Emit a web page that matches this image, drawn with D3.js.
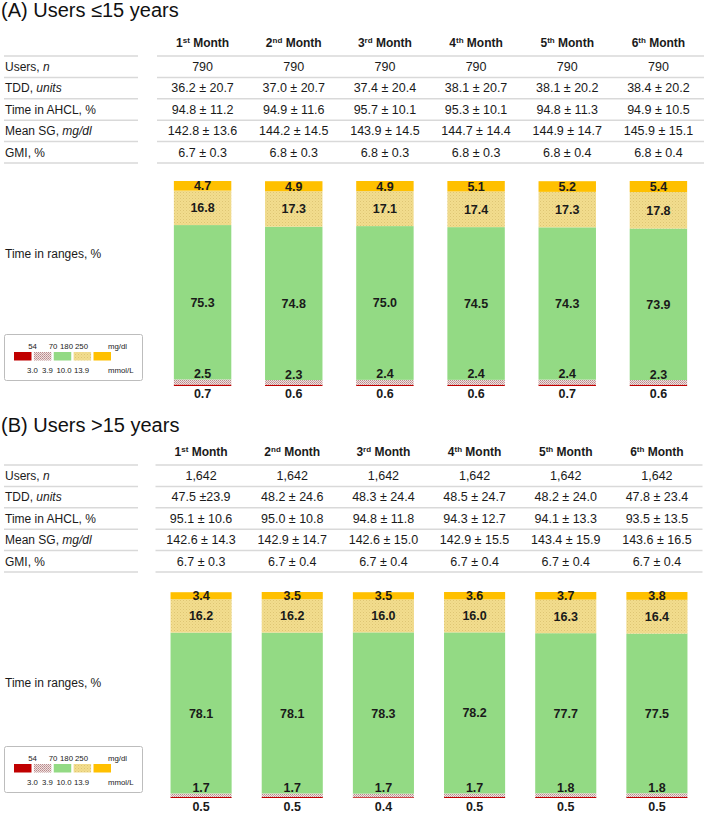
<!DOCTYPE html>
<html><head><meta charset="utf-8">
<script src="https://cdn.jsdelivr.net/npm/d3@7"></script>
<style>body{margin:0;background:#fff} text{font-family:"Liberation Sans",Arial,sans-serif;fill:#1a1a1a}</style>
</head><body><svg id="c" width="709" height="816"></svg>
<script>
// ---------- data ----------
const months = ["1", "2", "3", "4", "5", "6"];
const ordinals = ["st", "nd", "rd", "th", "th", "th"];
const rowLabels = [["Users, ", "n"], ["TDD, ", "units"], ["Time in AHCL, %", ""], ["Mean SG, ", "mg/dl"], ["GMI, %", ""]];
const rangeKeys = ["veryLow", "low", "inRange", "high", "veryHigh"];
const legendMgdl = ["54", "70", "180", "250"];
const legendMmol = ["3.0", "3.9", "10.0", "13.9"];

// Panel A: users <=15 years
const usersA = ["790", "790", "790", "790", "790", "790"];
const tddA = ["36.2 ± 20.7", "37.0 ± 20.7", "37.4 ± 20.4", "38.1 ± 20.7", "38.1 ± 20.2", "38.4 ± 20.2"];
const ahclA = ["94.8 ± 11.2", "94.9 ± 11.6", "95.7 ± 10.1", "95.3 ± 10.1", "94.8 ± 11.3", "94.9 ± 10.5"];
const sgA = ["142.8 ± 13.6", "144.2 ± 14.5", "143.9 ± 14.5", "144.7 ± 14.4", "144.9 ± 14.7", "145.9 ± 15.1"];
const gmiA = ["6.7 ± 0.3", "6.8 ± 0.3", "6.8 ± 0.3", "6.8 ± 0.3", "6.8 ± 0.4", "6.8 ± 0.4"];
const veryLowA = [0.7, 0.6, 0.6, 0.6, 0.7, 0.6];
const lowA = [2.5, 2.3, 2.4, 2.4, 2.4, 2.3];
const inRangeA = [75.3, 74.8, 75.0, 74.5, 74.3, 73.9];
const highA = [16.8, 17.3, 17.1, 17.4, 17.3, 17.8];
const veryHighA = [4.7, 4.9, 4.9, 5.1, 5.2, 5.4];

// Panel B: users >15 years
const usersB = ["1,642", "1,642", "1,642", "1,642", "1,642", "1,642"];
const tddB = ["47.5 ±23.9", "48.2 ± 24.6", "48.3 ± 24.4", "48.5 ± 24.7", "48.2 ± 24.0", "47.8 ± 23.4"];
const ahclB = ["95.1 ± 10.6", "95.0 ± 10.8", "94.8 ± 11.8", "94.3 ± 12.7", "94.1 ± 13.3", "93.5 ± 13.5"];
const sgB = ["142.6 ± 14.3", "142.9 ± 14.7", "142.6 ± 15.0", "142.9 ± 15.5", "143.4 ± 15.9", "143.6 ± 16.5"];
const gmiB = ["6.7 ± 0.3", "6.7 ± 0.4", "6.7 ± 0.4", "6.7 ± 0.4", "6.7 ± 0.4", "6.7 ± 0.4"];
const veryLowB = [0.5, 0.5, 0.4, 0.5, 0.5, 0.5];
const lowB = [1.7, 1.7, 1.7, 1.7, 1.8, 1.8];
const inRangeB = [78.1, 78.1, 78.3, 78.2, 77.7, 77.5];
const highB = [16.2, 16.2, 16.0, 16.0, 16.3, 16.4];
const veryHighB = [3.4, 3.5, 3.5, 3.6, 3.7, 3.8];

// ---------- drawing ----------
const svg = d3.select("#c");
const defs = svg.append("defs");

const yp = defs.append("pattern").attr("id", "hatchY").attr("patternUnits", "userSpaceOnUse").attr("width", 3).attr("height", 3);
yp.append("rect").attr("width", 3).attr("height", 3).attr("fill", "#F2DD8E");
yp.append("rect").attr("width", 1).attr("height", 1).attr("fill", "#DEC574");
yp.append("rect").attr("x", 1.5).attr("y", 1.5).attr("width", 1).attr("height", 1).attr("fill", "#E6CF80");

const lp = defs.append("pattern").attr("id", "hatchR").attr("patternUnits", "userSpaceOnUse").attr("width", 2).attr("height", 2);
lp.append("rect").attr("width", 2).attr("height", 2).attr("fill", "#EEE2E2");
lp.append("rect").attr("width", 1).attr("height", 1).attr("fill", "#B98888");
lp.append("rect").attr("x", 1).attr("y", 1).attr("width", 1).attr("height", 1).attr("fill", "#C9A0A0");

const color = d3.scaleOrdinal().domain(rangeKeys)
  .range(["#C00000", "url(#hatchR)", "#93DA84", "url(#hatchY)", "#FFC000"]);

function panel(cfg) {
  const g = svg.append("g");
  g.append("text").attr("x", 1).attr("y", cfg.titleY).attr("font-size", 20).style("fill", "#111").text(cfg.title);

  const x = d3.scaleBand().domain(months).range(cfg.colRange).padding(0);
  const cx = m => x(m) + x.bandwidth() / 2;
  const rowH = 21.4;
  const line0 = cfg.headerY + 13;

  // header
  months.forEach((m, i) => {
    const t = g.append("text").attr("x", cx(m)).attr("y", cfg.headerY + 4)
      .attr("text-anchor", "middle").attr("font-weight", "bold").attr("font-size", 12);
    t.append("tspan").text(m);
    t.append("tspan").attr("font-size", 8).attr("dy", -4).text(ordinals[i]);
    t.append("tspan").attr("dy", 4).text(" Month");
  });

  // separators
  for (let r = 0; r <= cfg.rows.length; r++) {
    const ly = line0 + r * rowH;
    g.append("line").attr("x1", 4).attr("x2", 138).attr("y1", ly).attr("y2", ly)
      .attr("stroke", "#D9D9D9").attr("stroke-width", 1.5);
    g.append("line").attr("x1", cfg.colRange[0]).attr("x2", cfg.colRange[1]).attr("y1", ly).attr("y2", ly)
      .attr("stroke", "#D9D9D9").attr("stroke-width", 1.5);
  }

  // rows
  cfg.rows.forEach((vals, r) => {
    const by = line0 + r * rowH + 15;
    const lt = g.append("text").attr("x", 5).attr("y", by).attr("font-size", 12);
    lt.append("tspan").text(rowLabels[r][0]);
    if (rowLabels[r][1]) lt.append("tspan").attr("font-style", "italic").text(rowLabels[r][1]);
    months.forEach((m, i) => {
      g.append("text").attr("x", cx(m)).attr("y", by).attr("text-anchor", "middle")
        .attr("font-size", 12.5).text(vals[i]);
    });
  });

  // stacked bars
  const data = months.map((m, i) => ({
    month: m, veryLow: cfg.tir[0][i], low: cfg.tir[1][i], inRange: cfg.tir[2][i],
    high: cfg.tir[3][i], veryHigh: cfg.tir[4][i]
  }));
  const series = d3.stack().keys(rangeKeys)(data);
  const y = d3.scaleLinear().domain([0, 100]).range([cfg.barBottom, cfg.barTop]);
  const bw = x.bandwidth() * cfg.barFrac;

  series.forEach(s => {
    g.append("g").selectAll("rect").data(s).join("rect")
      .attr("x", d => cx(d.data.month) - bw / 2)
      .attr("width", bw)
      .attr("y", d => y(d[1]))
      .attr("height", d => y(d[0]) - y(d[1]))
      .attr("fill", color(s.key));
  });

  // labels
  series.forEach(s => {
    g.append("g").selectAll("text").data(s).join("text")
      .attr("x", d => cx(d.data.month))
      .attr("y", d => {
        if (s.key === "veryLow") return y(d[0]) + cfg.vlGap;
        if (s.key === "low") return y(d[1]) - 1.5;
        return (y(d[0]) + y(d[1])) / 2 + 4.5;
      })
      .attr("text-anchor", "middle").attr("font-weight", "bold").attr("font-size", 12.5)
      .text(d => (d[1] - d[0]).toFixed(1));
  });

  g.append("text").attr("x", 5).attr("y", cfg.tirLabelY).attr("font-size", 12).text("Time in ranges, %");

  // legend
  const L = cfg.legendTop;
  g.append("rect").attr("x", 4.5).attr("y", L + 0.5).attr("width", 138).attr("height", 46)
    .attr("fill", "#fff").attr("stroke", "#BDBDBD").attr("rx", 2);
  const lx = d3.scaleBand().domain(rangeKeys).range([14, 111]).paddingInner(0.12);
  g.append("g").selectAll("rect").data(rangeKeys).join("rect")
    .attr("x", k => lx(k)).attr("y", L + 18).attr("width", lx.bandwidth()).attr("height", 8.5)
    .attr("fill", k => color(k));
  const topX = d3.scaleOrdinal().domain(legendMgdl).range([32.5, 53, 66.5, 81.5]);
  const botX = d3.scaleOrdinal().domain(legendMmol).range([32.5, 47.5, 64, 81.5]);
  g.append("g").selectAll("text").data(legendMgdl).join("text")
    .attr("x", d => topX(d)).attr("y", L + 14.5).attr("text-anchor", "middle")
    .attr("font-size", 7.8).text(d => d);
  g.append("g").selectAll("text").data(legendMmol).join("text")
    .attr("x", d => botX(d)).attr("y", L + 38.5).attr("text-anchor", "middle")
    .attr("font-size", 7.8).text(d => d);
  g.append("text").attr("x", 108).attr("y", L + 14.5).attr("font-size", 7.8).text("mg/dl");
  g.append("text").attr("x", 108).attr("y", L + 38.5).attr("font-size", 7.8).text("mmol/L");
}

panel({
  title: "(A) Users ≤15 years", titleY: 17, headerY: 43, colRange: [157, 704],
  rows: [usersA, tddA, ahclA, sgA, gmiA],
  tir: [veryLowA, lowA, inRangeA, highA, veryHighA],
  barTop: 181, barBottom: 386, barFrac: 0.63, vlGap: 11.5,
  tirLabelY: 258, legendTop: 334
});
panel({
  title: "(B) Users >15 years", titleY: 432, headerY: 452, colRange: [155.5, 702.5],
  rows: [usersB, tddB, ahclB, sgB, gmiB],
  tir: [veryLowB, lowB, inRangeB, highB, veryHighB],
  barTop: 592, barBottom: 798, barFrac: 0.67, vlGap: 13,
  tirLabelY: 687, legendTop: 746
});
</script></body></html>
